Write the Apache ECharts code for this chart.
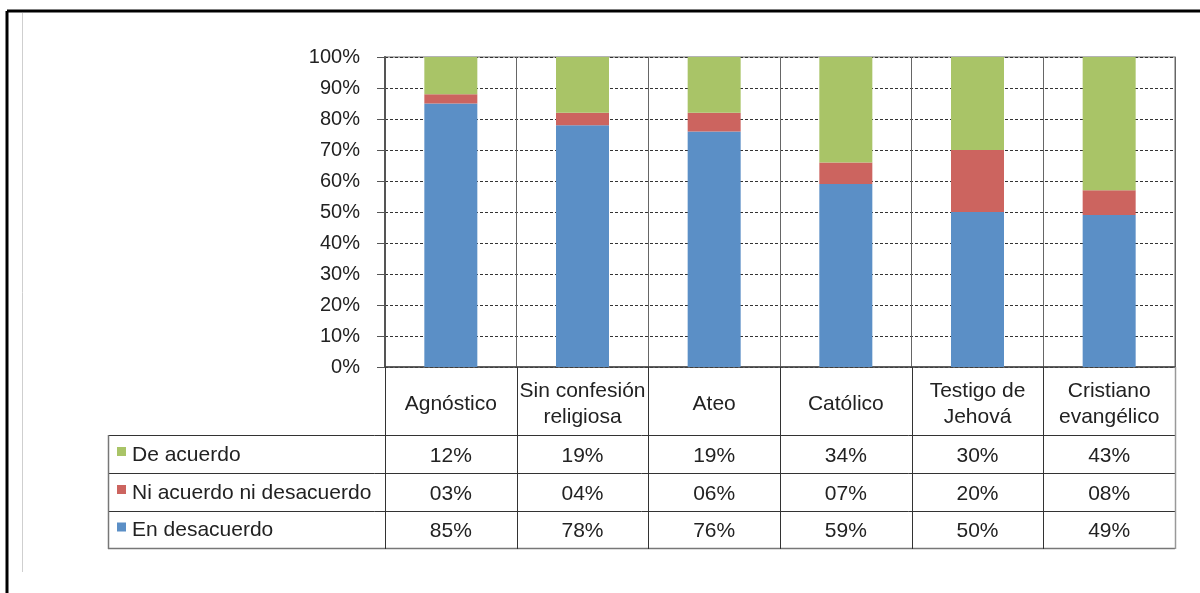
<!DOCTYPE html>
<html>
<head>
<meta charset="utf-8">
<script src="https://cdn.jsdelivr.net/npm/echarts@6/dist/echarts.min.js"></script>
<style>html,body{margin:0;padding:0;background:#fff;}#c{width:1200px;height:593px;}</style>
</head>
<body>
<div id="c"></div>
<script>
const categories = ['Agnóstico', 'Sin confesión\nreligiosa', 'Ateo', 'Católico', 'Testigo de\nJehová', 'Cristiano\nevangélico'];
const deAcuerdo = [12, 19, 19, 34, 30, 43];
const niAcuerdo = [3, 4, 6, 7, 20, 8];
const enDesacuerdo = [85, 78, 76, 59, 50, 49];
const seriesNames = ['De acuerdo', 'Ni acuerdo ni desacuerdo', 'En desacuerdo'];
const seriesColors = ['#A9C467', '#CC645F', '#5B8FC6'];
const yMin = 0, yMax = 100, yInterval = 10;

const FONT = 'Liberation Sans';
const L = 385, R = 1175, T = 57, B = 367;
const W = 1200, H = 593;
const rowLines = [435, 473, 511, 548];
const tableLeft = 108;
const cw = (R - L) / categories.length;

const chart = echarts.init(document.getElementById('c'), null, {renderer: 'canvas'});

const g = [];
// outer frame
g.push({type: 'line', shape: {x1: 7, y1: 11, x2: W, y2: 11}, style: {stroke: '#000', lineWidth: 3}, z: 100});
g.push({type: 'line', shape: {x1: 7, y1: 11, x2: 7, y2: H}, style: {stroke: '#000', lineWidth: 3}, z: 100});
g.push({type: 'line', shape: {x1: 22.5, y1: 13, x2: 22.5, y2: 572}, style: {stroke: '#cfcfcf', lineWidth: 1}, z: 100});

// table lines
const tStroke = '#333';
rowLines.forEach((y, i) => {
  g.push({type: 'line', shape: {x1: tableLeft, y1: y + 0.5, x2: R, y2: y + 0.5}, style: {stroke: i === rowLines.length - 1 ? '#777' : tStroke, lineWidth: i === rowLines.length - 1 ? 1.5 : 1}, z: 50});
});
g.push({type: 'line', shape: {x1: tableLeft + 0.5, y1: rowLines[0], x2: tableLeft + 0.5, y2: rowLines[3] + 1}, style: {stroke: '#777', lineWidth: 1.5}, z: 50});
for (let i = 0; i <= categories.length; i++) {
  const x = Math.round(L + i * cw) + 0.5;
  g.push({type: 'line', shape: {x1: x, y1: B, x2: x, y2: rowLines[3] + 1}, style: {stroke: i === categories.length ? '#999' : tStroke, lineWidth: i === categories.length ? 1.5 : 1}, z: 50});
}
// legend cells
const rowsData = [deAcuerdo, niAcuerdo, enDesacuerdo];
seriesNames.forEach((name, r) => {
  const y0 = rowLines[r], y1 = rowLines[r + 1];
  const cy = (y0 + y1) / 2;
  g.push({type: 'rect', shape: {x: 117, y: cy - 7, width: 9, height: 9}, style: {fill: seriesColors[r]}, z: 50});
  g.push({type: 'text', x: 132, y: cy + 1, style: {text: name, font: '21px "' + FONT + '"', fill: '#222', textAlign: 'left', textVerticalAlign: 'middle'}, z: 50});
  rowsData[r].forEach((v, c) => {
    g.push({type: 'text', x: L + (c + 0.5) * cw, y: cy + 2, style: {text: String(v).padStart(2, '0') + '%', font: '21px "' + FONT + '"', fill: '#222', textAlign: 'center', textVerticalAlign: 'middle'}, z: 50});
  });
});

const barW = 53;
chart.setOption({
  animation: false,
  backgroundColor: '#fff',
  grid: {left: L, right: W - R, top: T, bottom: H - B, show: true, borderColor: '#9a9a9a', borderWidth: 1.5, containLabel: false},
  xAxis: {
    type: 'category',
    data: categories,
    axisLine: {show: true, lineStyle: {color: '#444', width: 1.5}},
    axisTick: {show: false},
    axisLabel: {interval: 0, margin: 37, verticalAlign: 'middle', lineHeight: 26, fontSize: 21, fontFamily: FONT, color: '#222'},
    splitLine: {show: true, interval: 0, lineStyle: {color: '#666', width: 1}}
  },
  yAxis: {
    type: 'value',
    min: yMin, max: yMax, interval: yInterval,
    axisLine: {show: true, lineStyle: {color: '#555', width: 2}},
    axisTick: {show: true, length: 8, inside: false, lineStyle: {color: '#555', width: 1}},
    axisLabel: {formatter: '{value}%', margin: 25, fontSize: 20, fontFamily: FONT, color: '#222'},
    splitLine: {show: true, lineStyle: {color: '#333', width: 1, type: [3, 2]}}
  },
  series: [
    {name: seriesNames[2], type: 'bar', stack: 's', data: enDesacuerdo, barWidth: barW, itemStyle: {color: seriesColors[2]}},
    {name: seriesNames[1], type: 'bar', stack: 's', data: niAcuerdo, barWidth: barW, itemStyle: {color: seriesColors[1]}},
    {name: seriesNames[0], type: 'bar', stack: 's', data: deAcuerdo, barWidth: barW, itemStyle: {color: seriesColors[0]}, clip: true}
  ],
  graphic: g
});
</script>
</body>
</html>
